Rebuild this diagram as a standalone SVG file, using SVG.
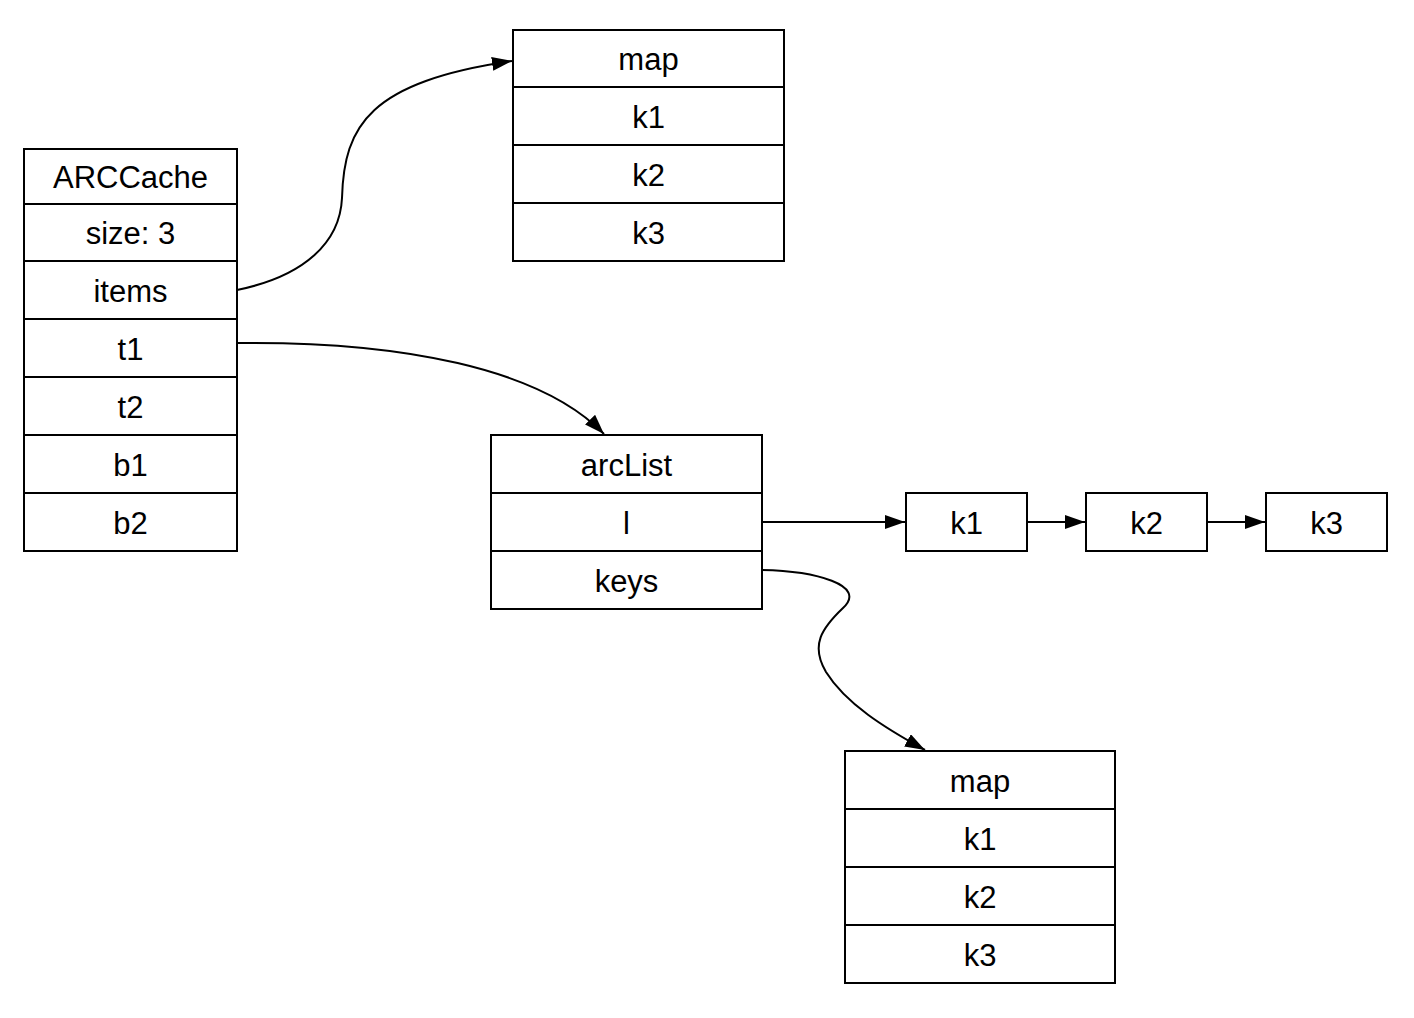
<svg xmlns="http://www.w3.org/2000/svg" width="1414" height="1018" viewBox="0 0 1414 1018">
  <style>
    .box { fill: #ffffff; stroke: #000000; stroke-width: 2; }
    .sep { stroke: #000000; stroke-width: 2; }
    .lbl { font-family: "Liberation Sans", Arial, Helvetica, sans-serif; font-size: 31px; fill: #000000; text-anchor: middle; }
    .edge { fill: none; stroke: #000000; stroke-width: 2; }
  </style>
  <defs>
    <marker id="arrow" markerUnits="userSpaceOnUse" markerWidth="22" markerHeight="16" refX="20" refY="7" orient="auto">
      <path d="M0,0 L20,7 L0,14 Z" fill="#000000"/>
    </marker>
  </defs>
  <rect width="1414" height="1018" fill="#ffffff"/>

  <!-- ARCCache record -->
  <g id="arccache">
    <rect class="box" x="24" y="149" width="213" height="402"/>
    <line class="sep" x1="24" y1="204" x2="237" y2="204"/>
    <line class="sep" x1="24" y1="261" x2="237" y2="261"/>
    <line class="sep" x1="24" y1="319" x2="237" y2="319"/>
    <line class="sep" x1="24" y1="377" x2="237" y2="377"/>
    <line class="sep" x1="24" y1="435" x2="237" y2="435"/>
    <line class="sep" x1="24" y1="493" x2="237" y2="493"/>
    <text class="lbl" x="130.5" y="188">ARCCache</text>
    <text class="lbl" x="130.5" y="243.5">size: 3</text>
    <text class="lbl" x="130.5" y="301.5">items</text>
    <text class="lbl" x="130.5" y="359.5">t1</text>
    <text class="lbl" x="130.5" y="417.5">t2</text>
    <text class="lbl" x="130.5" y="475.5">b1</text>
    <text class="lbl" x="130.5" y="533.5">b2</text>
  </g>

  <!-- items map -->
  <g id="items_map">
    <rect class="box" x="513" y="30" width="271" height="231"/>
    <line class="sep" x1="513" y1="87" x2="784" y2="87"/>
    <line class="sep" x1="513" y1="145" x2="784" y2="145"/>
    <line class="sep" x1="513" y1="203" x2="784" y2="203"/>
    <text class="lbl" x="648.5" y="69.5">map</text>
    <text class="lbl" x="648.5" y="127.5">k1</text>
    <text class="lbl" x="648.5" y="185.5">k2</text>
    <text class="lbl" x="648.5" y="243.5">k3</text>
  </g>

  <!-- arcList record -->
  <g id="arclist">
    <rect class="box" x="491" y="435" width="271" height="174"/>
    <line class="sep" x1="491" y1="493" x2="762" y2="493"/>
    <line class="sep" x1="491" y1="551" x2="762" y2="551"/>
    <text class="lbl" x="626.5" y="475.5">arcList</text>
    <text class="lbl" x="626.5" y="533.5">l</text>
    <text class="lbl" x="626.5" y="591.5">keys</text>
  </g>

  <!-- linked list elements -->
  <g id="list_k1">
    <rect class="box" x="906" y="493" width="121" height="58"/>
    <text class="lbl" x="966.5" y="533.5">k1</text>
  </g>
  <g id="list_k2">
    <rect class="box" x="1086" y="493" width="121" height="58"/>
    <text class="lbl" x="1146.5" y="533.5">k2</text>
  </g>
  <g id="list_k3">
    <rect class="box" x="1266" y="493" width="121" height="58"/>
    <text class="lbl" x="1326.5" y="533.5">k3</text>
  </g>

  <!-- keys map -->
  <g id="keys_map">
    <rect class="box" x="845" y="751" width="270" height="232"/>
    <line class="sep" x1="845" y1="809" x2="1115" y2="809"/>
    <line class="sep" x1="845" y1="867" x2="1115" y2="867"/>
    <line class="sep" x1="845" y1="925" x2="1115" y2="925"/>
    <text class="lbl" x="980" y="791.5">map</text>
    <text class="lbl" x="980" y="849.5">k1</text>
    <text class="lbl" x="980" y="907.5">k2</text>
    <text class="lbl" x="980" y="965.5">k3</text>
  </g>

  <!-- connectors -->
  <g id="edges">
    <path class="edge" marker-end="url(#arrow)" d="M237,290 C305,276 340,242 342,198 C344,125 370,82 512,61"/>
    <path class="edge" marker-end="url(#arrow)" d="M237,343 C400,341 540,368 604,434"/>
    <path class="edge" marker-end="url(#arrow)" d="M762,522 L905,522"/>
    <path class="edge" marker-end="url(#arrow)" d="M1027,522 L1085,522"/>
    <path class="edge" marker-end="url(#arrow)" d="M1207,522 L1265,522"/>
    <path class="edge" marker-end="url(#arrow)" d="M762,570 C815,571 868,585 843,608 C822,628 810,645 826,672 C846,704 885,728 925,750"/>
  </g>
</svg>
